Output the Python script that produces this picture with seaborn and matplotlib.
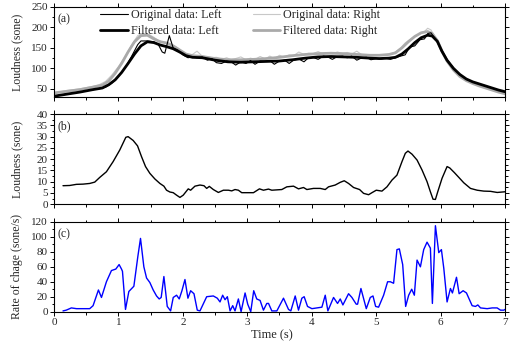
import matplotlib
matplotlib.use("Agg")
import matplotlib.pyplot as plt
from matplotlib.ticker import MultipleLocator
import seaborn as sns

# ---- (a) loudness, left and right channels ----
orig_time = [0.0, 0.1, 0.2, 0.3, 0.4, 0.5, 0.6, 0.7, 0.8, 0.9, 1.0, 1.1, 1.2, 1.3,
             1.35, 1.45, 1.55, 1.62, 1.68, 1.72, 1.79, 1.85, 1.92,
             2.0, 2.08, 2.15, 2.22, 2.3, 2.38, 2.45, 2.52, 2.6, 2.68,
             2.75, 2.82, 2.9, 2.98, 3.05, 3.12, 3.2, 3.28, 3.35, 3.42,
             3.5, 3.58, 3.65, 3.72, 3.8, 3.88, 3.95, 4.02, 4.1, 4.18,
             4.25, 4.32, 4.4, 4.48, 4.55, 4.62, 4.7, 4.78, 4.85, 4.92,
             5.0, 5.08, 5.15, 5.22, 5.3, 5.38, 5.45, 5.52, 5.6, 5.68,
             5.75, 5.8, 5.85, 5.92, 6.0, 6.1, 6.2, 6.3, 6.4, 6.5,
             6.6, 6.7, 6.8, 6.9, 7.0]
orig_left = [32, 35, 37, 40, 42, 45, 48, 50, 54, 64, 80, 100, 128, 158,
             167, 167, 165, 158, 140, 137, 180, 150, 145,
             133, 126, 128, 126, 128, 120, 124, 114, 112, 118,
             116, 108, 116, 112, 119, 110, 118, 117, 119, 110,
             118, 120, 112, 120, 123, 116, 126, 127, 122, 130,
             128, 122, 129, 130, 126, 130, 120, 126, 127, 121,
             124, 123, 125, 122, 126, 130, 133, 152, 155, 170,
             172, 185, 187, 172, 150, 122, 101, 85, 74, 67,
             62, 57, 52, 47, 43]
orig_right = [40, 43, 46, 48, 50, 53, 56, 60, 68, 84, 104, 128, 156, 180,
              184, 185, 176, 168, 165, 163, 160, 156, 150,
              138, 133, 134, 142, 130, 128, 126, 127, 122, 126,
              121, 124, 128, 121, 125, 122, 129, 123, 130, 124,
              132, 127, 133, 131, 140, 134, 137, 136, 141, 135,
              138, 136, 140, 136, 139, 135, 142, 133, 131, 133,
              131, 133, 133, 135, 140, 150, 162, 170, 178, 185,
              190, 198, 194, 176, 150, 120, 97, 81, 71, 63,
              57, 52, 47, 42, 38]

filt_time = [0.0, 0.2, 0.4, 0.6, 0.75, 0.85, 0.95, 1.05, 1.15, 1.25,
             1.35, 1.45, 1.55, 1.65, 1.75, 1.85, 1.95, 2.05, 2.15, 2.3,
             2.5, 2.7, 2.9, 3.1, 3.3, 3.5, 3.7, 3.9, 4.1, 4.3,
             4.5, 4.7, 4.9, 5.05, 5.2, 5.3, 5.4, 5.5, 5.6, 5.7,
             5.8, 5.87, 5.95, 6.02, 6.1, 6.2, 6.3, 6.4, 6.5, 6.6,
             6.7, 6.8, 6.9, 7.0]
filt_left = [32, 37, 42, 48, 52, 60, 72, 90, 112, 135,
             155, 165, 163, 157, 153, 148, 140, 131, 127, 126,
             120, 116, 115, 116, 117, 118, 121, 125, 128, 129,
             128, 127, 125, 124, 125, 127, 135, 148, 163, 175,
             181, 179, 166, 142, 120, 100, 85, 74, 67, 62,
             57, 52, 47, 43]
filt_right = [40, 44, 48, 54, 59, 69, 88, 112, 140, 165,
              180, 181, 172, 165, 162, 155, 145, 135, 131, 129,
              124, 121, 121, 122, 124, 127, 131, 134, 136, 137,
              136, 134, 132, 132, 134, 138, 150, 165, 178, 187,
              190, 185, 168, 143, 118, 96, 80, 70, 63, 57,
              52, 47, 42, 38]

# ---- (b) left/right loudness difference ----
diff_time = [0.14, 0.244, 0.348, 0.451, 0.555, 0.633, 0.711, 0.814, 0.918, 1.022,
             1.115, 1.151, 1.229, 1.297, 1.359, 1.421, 1.488, 1.566, 1.644, 1.706,
             1.747, 1.799, 1.851, 1.903, 1.955, 2.006, 2.084, 2.121, 2.188, 2.266,
             2.328, 2.37, 2.411, 2.473, 2.551, 2.629, 2.707, 2.759, 2.81, 2.862,
             2.914, 2.992, 3.044, 3.096, 3.189, 3.251, 3.329, 3.381, 3.536, 3.614,
             3.718, 3.795, 3.873, 3.925, 4.028, 4.132, 4.21, 4.261, 4.365, 4.443,
             4.505, 4.572, 4.65, 4.743, 4.805, 4.883, 4.935, 5.002, 5.09, 5.168,
             5.246, 5.323, 5.401, 5.453, 5.494, 5.557, 5.635, 5.712, 5.79, 5.842,
             5.883, 5.92, 5.956, 6.023, 6.101, 6.142, 6.215, 6.283, 6.36, 6.464,
             6.568, 6.671, 6.775, 6.879, 7.0]
diff_loud = [8.2, 8.3, 8.8, 8.9, 9.2, 9.8, 11.9, 14.4, 18.9, 24.1,
             29.7, 30.0, 28.3, 25.9, 21.1, 16.7, 13.7, 11.2, 9.2, 8.0,
             6.2, 5.4, 5.1, 4.0, 3.0, 4.0, 6.8, 6.2, 8.0, 8.5,
             8.2, 7.0, 7.9, 6.5, 5.2, 6.2, 6.2, 5.9, 6.5, 6.2,
             5.1, 5.1, 5.1, 5.1, 6.8, 6.2, 6.7, 6.2, 6.5, 7.7,
             8.0, 6.8, 7.4, 6.5, 7.0, 7.0, 6.5, 7.7, 8.5, 9.7,
             10.4, 9.2, 7.4, 6.5, 4.8, 4.2, 5.1, 6.2, 5.8, 7.7,
             10.7, 12.9, 18.9, 22.6, 23.6, 22.2, 19.6, 15.2, 10.0, 5.5,
             2.2, 2.1, 5.5, 11.5, 16.7, 16.1, 14.0, 11.9, 9.5, 7.0,
             6.2, 5.8, 5.7, 5.2, 5.5]

# ---- (c) rate of change ----
rate_time = [0.14, 0.19, 0.27, 0.35, 0.45, 0.555, 0.607, 0.69, 0.737, 0.814,
             0.892, 0.96, 1.011, 1.048, 1.063, 1.11, 1.162, 1.24, 1.302, 1.343,
             1.395, 1.437, 1.488, 1.54, 1.592, 1.633, 1.664, 1.706, 1.758, 1.81,
             1.851, 1.903, 1.944, 1.986, 2.033, 2.079, 2.121, 2.173, 2.224, 2.266,
             2.37, 2.473, 2.535, 2.577, 2.618, 2.655, 2.691, 2.733, 2.774, 2.81,
             2.862, 2.904, 2.966, 3.007, 3.054, 3.10, 3.147, 3.199, 3.251, 3.303,
             3.33, 3.381, 3.459, 3.562, 3.64, 3.676, 3.744, 3.795, 3.847, 3.883,
             3.935, 4.003, 4.08, 4.158, 4.21, 4.251, 4.339, 4.401, 4.443, 4.484,
             4.572, 4.624, 4.691, 4.712, 4.764, 4.847, 4.909, 4.951, 4.992, 5.038,
             5.116, 5.178, 5.22, 5.271, 5.323, 5.36, 5.412, 5.458, 5.505, 5.552,
             5.593, 5.635, 5.687, 5.738, 5.79, 5.842, 5.873, 5.92, 5.972, 6.013,
             6.05, 6.101, 6.153, 6.184, 6.247, 6.288, 6.35, 6.402, 6.49, 6.542,
             6.578, 6.62, 6.723, 6.801, 6.878, 6.93, 6.982, 7.0]
rate_val = [1, 2, 5, 4, 4, 4, 8, 29, 19, 40,
            55, 57, 63, 57, 54, 3, 27, 34, 74, 98,
            60, 45, 39, 29, 21, 17, 19, 47, 7, 1,
            19, 22, 17, 28, 43, 18, 28, 24, 2, 1,
            20, 21, 18, 13, 22, 16, 20, 1, 8, 1,
            17, 0, 25, 10, 0, 28, 17, 15, 2, 11,
            11, 1, 1, 18, 3, 1, 21, 2, 18, 20,
            7, 4, 5, 6, 22, 1, 19, 11, 17, 9,
            24, 19, 10, 10, 31, 4, 19, 21, 7, 6,
            22, 40, 40, 38, 83, 84, 63, 7, 22, 30,
            22, 69, 60, 83, 93, 85, 11, 115, 79, 83,
            58, 13, 31, 25, 46, 24, 28, 25, 8, 7,
            9, 5, 4, 5, 5, 2, 2, 3]

x_ticks = [0, 1, 2, 3, 4, 5, 6, 7]

sns.set_style("ticks")
plt.rcParams["font.family"] = ["Liberation Serif", "DejaVu Serif"]

fig = plt.figure(figsize=(5.14, 3.49), dpi=100)
left, width = 0.105, 0.8775
ax_a = fig.add_axes([left, 0.722, width, 0.258])
ax_b = fig.add_axes([left, 0.415, width, 0.258])
ax_c = fig.add_axes([left, 0.107, width, 0.257])

line_kw = dict(estimator=None, sort=False)

sns.lineplot(x=orig_time, y=orig_right, ax=ax_a, color="#c8c8c8", lw=0.8,
             label="Original data: Right", **line_kw)
sns.lineplot(x=filt_time, y=filt_right, ax=ax_a, color="#aaaaaa", lw=2.0,
             label="Filtered data: Right", **line_kw)
sns.lineplot(x=orig_time, y=orig_left, ax=ax_a, color="black", lw=0.8,
             label="Original data: Left", **line_kw)
sns.lineplot(x=filt_time, y=filt_left, ax=ax_a, color="black", lw=2.0,
             label="Filtered data: Left", **line_kw)

sns.lineplot(x=diff_time, y=diff_loud, ax=ax_b, color="black", lw=1.0, **line_kw)
sns.lineplot(x=rate_time, y=rate_val, ax=ax_c, color="#0000ff", lw=1.0, **line_kw)

handles, labels = ax_a.get_legend_handles_labels()
order = [2, 3, 0, 1]
ax_a.legend([handles[i] for i in order], [labels[i] for i in order],
            ncol=2, loc="upper left", bbox_to_anchor=(0.102, 0.975),
            frameon=False, fontsize=8.7, handlelength=2.3, handletextpad=0.25,
            columnspacing=2.6, labelspacing=0.35, borderpad=0, borderaxespad=0)

ax_a.set_ylim(30, 250)
ax_a.yaxis.set_major_locator(MultipleLocator(50))
ax_a.yaxis.set_minor_locator(MultipleLocator(25))
ax_b.set_ylim(0, 40)
ax_b.yaxis.set_major_locator(MultipleLocator(5))
ax_b.yaxis.set_minor_locator(MultipleLocator(2.5))
ax_c.set_ylim(0, 120)
ax_c.yaxis.set_major_locator(MultipleLocator(20))
ax_c.yaxis.set_minor_locator(MultipleLocator(10))

for ax, tag in ((ax_a, "(a)"), (ax_b, "(b)"), (ax_c, "(c)")):
    ax.set_xlim(0, 7)
    ax.set_xticks(x_ticks)
    ax.xaxis.set_minor_locator(MultipleLocator(0.5))
    for side in ax.spines.values():
        side.set_visible(True)
        side.set_linewidth(0.8)
        side.set_color("black")
    ax.tick_params(which="both", direction="out", top=True, right=True,
                   width=0.7, labelsize=8, pad=1.5, color="black")
    ax.tick_params(which="major", length=3)
    ax.tick_params(which="minor", length=1.8)
    ax.text(0.008, 0.93, tag, transform=ax.transAxes, ha="left", va="top",
            fontsize=8.5)
    ax.yaxis.set_label_coords(-0.069, 0.5)

ax_a.tick_params(axis="x", labelbottom=False)
ax_b.tick_params(axis="x", labelbottom=False)

ax_a.set_ylabel("Loudness (sone)", fontsize=8.5)
ax_b.set_ylabel("Loudness (sone)", fontsize=8.5)
ax_c.set_ylabel("Rate of chage (sone/s)", fontsize=8.5)
ax_c.set_xlabel("Time (s)", fontsize=9)
ax_c.xaxis.set_label_coords(0.483, -0.2)

fig.savefig("out.png", dpi=100)
